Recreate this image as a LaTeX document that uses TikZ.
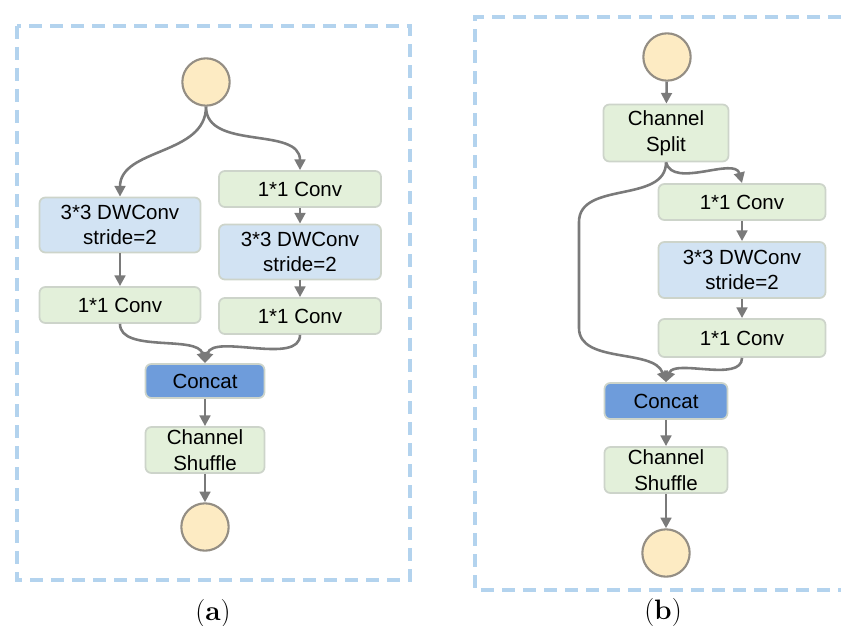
\documentclass[tikz,border=0pt]{standalone}
\usepackage{fontspec}
\setsansfont{Liberation Sans}
\usepackage{xcolor}
\usepackage{tikz}
\usetikzlibrary{arrows.meta, positioning}
\definecolor{linegray}{HTML}{7A7A7A}
\definecolor{boxedge}{HTML}{CDD4CA}
\definecolor{convgreen}{HTML}{E3F0DA}
\definecolor{dwblue}{HTML}{D2E3F3}
\definecolor{catblue}{HTML}{6E9CDB}
\definecolor{circfill}{HTML}{FDEBC3}
\definecolor{circedge}{HTML}{948E84}
\definecolor{frameblue}{HTML}{B3D3EE}
\tikzstyle{conv} = [rectangle, draw=boxedge, line width=1.5pt, fill=convgreen, rounded corners=5pt, align=center, font=\sffamily\fontsize{17.5}{22}\selectfont, minimum height=1.08cm, inner sep=2pt]
\tikzstyle{dwconv} = [conv, fill=dwblue, minimum height=1.65cm]
\tikzstyle{concat} = [conv, fill=catblue, minimum height=1.02cm]
\tikzstyle{port} = [circle, draw=circedge, line width=1.8pt, fill=circfill, minimum size=1.42cm, inner sep=0pt]
\tikzstyle{arrow} = [-{Triangle[length=3.2mm,width=3.2mm]}, line width=2.2pt, draw=linegray]
\tikzstyle{frame} = [draw=frameblue, line width=3.2pt, dash pattern=on 0.38cm off 0.25cm]
\tikzstyle{caption} = [font=\fontsize{24}{28}\selectfont]

\begin{document}
\begin{tikzpicture}[x=0.03cm, y=-0.03cm]
\useasboundingbox (0,0) rectangle (841,626);

% (a) stride-2 unit
\draw[frame] (17,26) rectangle (410,580);
\node[port] (a_in) at (206,82) {};
\node[dwconv, minimum width=4.83cm] (a_dw) at (120,225) {3*3 DWConv\\stride=2};
\node[conv, minimum width=4.83cm] (a_conv) at (120,305) {1*1 Conv};
\node[conv, minimum width=4.86cm] (a_conv1) at (300,189) {1*1 Conv};
\node[dwconv, minimum width=4.86cm] (a_dw2) at (300,252) {3*3 DWConv\\stride=2};
\node[conv, minimum width=4.86cm] (a_conv2) at (300,316) {1*1 Conv};
\node[concat, minimum width=3.57cm] (a_cat) at (205,381) {Concat};
\node[conv, minimum width=3.57cm, minimum height=1.38cm] (a_shuf) at (205,450) {Channel\\Shuffle};
\node[port] (a_out) at (205,527) {};
\node[caption] (a_lab) at (213,613) {(\textbf{a})};

\draw[arrow] (a_in.south) to[out=-90, in=90] (a_dw.north);
\draw[arrow] (a_in.south) to[out=-90, in=90] (a_conv1.north);
\draw[arrow] (a_dw) -- (a_conv);
\draw[arrow] (a_conv1) -- (a_dw2);
\draw[arrow] (a_dw2) -- (a_conv2);
\draw[arrow] (a_conv.south) to[out=-90, in=105, looseness=0.8] (a_cat.north);
\draw[arrow] (a_conv2.south) to[out=-90, in=75, looseness=0.8] (a_cat.north);
\draw[arrow] (a_cat) -- (a_shuf);
\draw[arrow] (a_shuf) -- (a_out);

% (b) basic unit with channel split
\draw[frame] (841,17) -- (475,17) -- (475,590) -- (841,590);
\node[port] (b_in) at (667,57) {};
\node[conv, minimum width=3.75cm, minimum height=1.71cm] (b_split) at (666,133) {Channel\\Split};
\node[conv, minimum width=5.01cm] (b_conv1) at (742,202) {1*1 Conv};
\node[dwconv, minimum width=5.01cm, minimum height=1.68cm] (b_dw) at (742,270) {3*3 DWConv\\stride=2};
\node[conv, minimum width=5.01cm, minimum height=1.14cm] (b_conv2) at (742,338) {1*1 Conv};
\node[concat, minimum width=3.69cm, minimum height=1.08cm] (b_cat) at (666,401) {Concat};
\node[conv, minimum width=3.69cm, minimum height=1.38cm] (b_shuf) at (666,470) {Channel\\Shuffle};
\node[port] (b_out) at (666,553) {};
\node[caption] (b_lab) at (663,612) {(\textbf{b})};
\coordinate (b_bend1) at (579,222);
\coordinate (b_bend2) at (579,328);

\draw[arrow] (b_in) -- (b_split);
\draw[arrow] (b_split.south) to[out=-75, in=105, looseness=0.9] (b_conv1.north);
\draw[arrow] (b_split.south) to[out=-90, in=90] (b_bend1) -- (b_bend2) to[out=-90, in=110, looseness=0.9] (b_cat.north);
\draw[arrow] (b_conv1) -- (b_dw);
\draw[arrow] (b_dw) -- (b_conv2);
\draw[arrow] (b_conv2.south) to[out=-90, in=70, looseness=0.8] (b_cat.north);
\draw[arrow] (b_cat) -- (b_shuf);
\draw[arrow] (b_shuf) -- (b_out);

\end{tikzpicture}
\end{document}
